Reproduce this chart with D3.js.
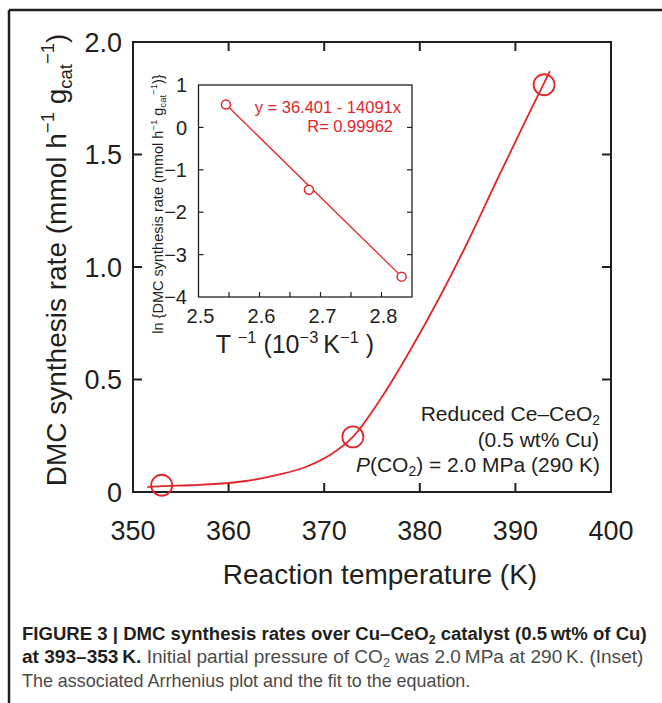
<!DOCTYPE html>
<html>
<head>
<meta charset="utf-8">
<script src="https://cdn.jsdelivr.net/npm/d3@7/dist/d3.min.js"></script>
<style>
  html, body { margin: 0; padding: 0; background: #fff; }
  svg { display: block; }
  text { font-family: "Liberation Sans", Arial, Helvetica, sans-serif; fill: #231f20; }
</style>
</head>
<body>
<svg id="fig" width="662" height="703"></svg>
<script>
// main plot: measured rates
const mainTemps = [353, 373, 393];
const mainRates = [0.03, 0.245, 1.81];
// smooth red curve
const curveT = [351.5, 353, 356, 360, 362, 365, 368, 370.6, 373, 376, 379, 382, 385, 388, 391, 393.6];
const curveR = [0.022, 0.026, 0.03, 0.04, 0.05, 0.075, 0.11, 0.164, 0.245, 0.42, 0.63, 0.86, 1.11, 1.38, 1.645, 1.87];
const xTicks = [350, 360, 370, 380, 390, 400];
const yTicks = [0, 0.5, 1.0, 1.5, 2.0];
const yTickLabels = ['0', '0.5', '1.0', '1.5', '2.0'];

// inset: Arrhenius plot
const invT = [2.545, 2.681, 2.833];
const lnRate = [0.54, -1.47, -3.52];
const fitX = [2.545, 2.833];
const fitY = [0.54, -3.52];
const insetXTicks = [2.5, 2.6, 2.7, 2.8];
const insetXMinor = [2.55, 2.6, 2.65, 2.7, 2.75, 2.8];
const insetYTicks = [1, 0, -1, -2, -3, -4];

const RED = '#e3262b';
const INK = '#231f20';
const svg = d3.select('#fig');

// helper: text with sup/sub segments
function rich(sel, segs, size) {
  let cur = 0;
  segs.forEach(s => {
    const target = s.k === 'sup' ? -0.42 * size : s.k === 'sub' ? 0.2 * size : 0;
    const t = sel.append('tspan')
      .attr('dy', target - cur)
      .attr('font-size', s.k ? size * 0.66 : size)
      .text(s.t);
    if (s.italic) t.attr('font-style', 'italic');
    if (s.bold) t.attr('font-weight', 'bold');
    if (s.fill) t.style('fill', s.fill);
    cur = target;
  });
  return sel;
}

// outer frame (left + top)
svg.append('line').attr('x1', 9).attr('y1', 10).attr('x2', 662).attr('y2', 10)
  .attr('stroke', INK).attr('stroke-width', 2.5);
svg.append('line').attr('x1', 9).attr('y1', 10).attr('x2', 9).attr('y2', 703)
  .attr('stroke', INK).attr('stroke-width', 2.5);

// ---------- main plot ----------
const x = d3.scaleLinear().domain([350, 400]).range([133, 611]);
const y = d3.scaleLinear().domain([0, 2]).range([492, 42]);
const TK = 9;

const main = svg.append('g');
main.append('rect')
  .attr('x', x(350)).attr('y', y(2))
  .attr('width', x(400) - x(350)).attr('height', y(0) - y(2))
  .attr('fill', 'none').attr('stroke', INK).attr('stroke-width', 2);

const innerX = xTicks.slice(1, -1);
const innerY = yTicks.slice(1, -1);
innerX.forEach(v => {
  main.append('line').attr('x1', x(v)).attr('x2', x(v)).attr('y1', y(0)).attr('y2', y(0) - TK)
    .attr('stroke', INK).attr('stroke-width', 2);
  main.append('line').attr('x1', x(v)).attr('x2', x(v)).attr('y1', y(2)).attr('y2', y(2) + TK)
    .attr('stroke', INK).attr('stroke-width', 2);
});
innerY.forEach(v => {
  main.append('line').attr('x1', x(350)).attr('x2', x(350) + TK).attr('y1', y(v)).attr('y2', y(v))
    .attr('stroke', INK).attr('stroke-width', 2);
  main.append('line').attr('x1', x(400)).attr('x2', x(400) - TK).attr('y1', y(v)).attr('y2', y(v))
    .attr('stroke', INK).attr('stroke-width', 2);
});

xTicks.forEach(v => {
  main.append('text').attr('x', x(v)).attr('y', 540)
    .attr('text-anchor', 'middle').attr('font-size', 27).text(v);
});
yTicks.forEach((v, i) => {
  main.append('text').attr('x', 122).attr('y', y(v)).attr('dy', '0.36em')
    .attr('text-anchor', 'end').attr('font-size', 27).text(yTickLabels[i]);
});

main.append('text').attr('x', 380).attr('y', 584)
  .attr('text-anchor', 'middle').attr('font-size', 28).text('Reaction temperature (K)');

rich(main.append('text')
  .attr('transform', 'translate(66,260) rotate(-90)')
  .attr('text-anchor', 'middle'),
  [{t: 'DMC synthesis rate (mmol h'}, {t: '\u22121', k: 'sup'}, {t: ' g'},
   {t: 'cat', k: 'sub'}, {t: '\u22121', k: 'sup'}, {t: ')'}], 28);

const line = d3.line().x(d => x(d[0])).y(d => y(d[1])).curve(d3.curveMonotoneX);
main.append('path')
  .attr('d', line(curveT.map((t, i) => [t, curveR[i]])))
  .attr('fill', 'none').attr('stroke', RED).attr('stroke-width', 1.8);
main.selectAll('circle.pt').data(mainTemps).join('circle')
  .attr('class', 'pt')
  .attr('cx', d => x(d)).attr('cy', (d, i) => y(mainRates[i])).attr('r', 10.5)
  .attr('fill', 'none').attr('stroke', RED).attr('stroke-width', 1.8);

// annotation
const ann = main.append('g').attr('text-anchor', 'end').attr('font-size', 21);
rich(ann.append('text').attr('x', 600).attr('y', 421),
  [{t: 'Reduced Ce\u2013CeO'}, {t: '2', k: 'sub'}], 21);
ann.append('text').attr('x', 599).attr('y', 447).attr('font-size', 21).text('(0.5 wt% Cu)');
rich(ann.append('text').attr('x', 600).attr('y', 472),
  [{t: 'P', italic: true}, {t: '(CO'}, {t: '2', k: 'sub'}, {t: ') = 2.0 MPa (290 K)'}], 21);

// ---------- inset ----------
const ix = d3.scaleLinear().domain([2.5, 2.85]).range([198.5, 412]);
const iy = d3.scaleLinear().domain([-4, 1]).range([297, 85]);
const ITK = 5;
const inset = svg.append('g');
inset.append('rect')
  .attr('x', ix(2.5)).attr('y', iy(1))
  .attr('width', ix(2.85) - ix(2.5)).attr('height', iy(-4) - iy(1))
  .attr('fill', 'none').attr('stroke', INK).attr('stroke-width', 1.3);

insetXMinor.forEach(v => {
  inset.append('line').attr('x1', ix(v)).attr('x2', ix(v)).attr('y1', iy(-4)).attr('y2', iy(-4) - ITK)
    .attr('stroke', INK).attr('stroke-width', 1.2);
});
insetYTicks.slice(1, -1).forEach(v => {
  inset.append('line').attr('x1', ix(2.5)).attr('x2', ix(2.5) + ITK).attr('y1', iy(v)).attr('y2', iy(v))
    .attr('stroke', INK).attr('stroke-width', 1.2);
  inset.append('line').attr('x1', ix(2.85)).attr('x2', ix(2.85) - ITK).attr('y1', iy(v)).attr('y2', iy(v))
    .attr('stroke', INK).attr('stroke-width', 1.2);
});

insetXTicks.forEach(v => {
  inset.append('text').attr('x', ix(v) + 2).attr('y', 323)
    .attr('text-anchor', 'middle').attr('font-size', 20).text(v.toFixed(1));
});
insetYTicks.forEach(v => {
  inset.append('text').attr('x', 187).attr('y', iy(v)).attr('dy', '0.36em')
    .attr('text-anchor', 'end').attr('font-size', 20).text(v < 0 ? '\u2212' + Math.abs(v) : v);
});

rich(inset.append('text').attr('x', 295).attr('y', 353).attr('text-anchor', 'middle'),
  [{t: 'T '}, {t: '\u22121', k: 'sup'}, {t: ' (10'}, {t: '\u22123', k: 'sup'}, {t: '\u2009K'},
   {t: '\u22121', k: 'sup'}, {t: ' )'}], 25);

rich(inset.append('text')
  .attr('transform', 'translate(163,204) rotate(-90)')
  .attr('text-anchor', 'middle'),
  [{t: 'ln {DMC synthesis rate (mmol h'}, {t: '\u22121', k: 'sup'}, {t: ' g'},
   {t: 'cat', k: 'sub'}, {t: '\u22121', k: 'sup'}, {t: ')}'}], 14.5);

inset.append('path')
  .attr('d', d3.line().x(d => ix(d[0])).y(d => iy(d[1]))(fitX.map((v, i) => [v, fitY[i]])))
  .attr('fill', 'none').attr('stroke', RED).attr('stroke-width', 1.3);
inset.selectAll('circle.ip').data(invT).join('circle')
  .attr('class', 'ip')
  .attr('cx', d => ix(d)).attr('cy', (d, i) => iy(lnRate[i])).attr('r', 4.5)
  .attr('fill', '#fff').attr('stroke', RED).attr('stroke-width', 1.5);

inset.append('text').attr('x', 401).attr('y', 113).attr('text-anchor', 'end')
  .attr('font-size', 16.5).style('fill', RED).text('y = 36.401 - 14091x');
inset.append('text').attr('x', 393).attr('y', 132).attr('text-anchor', 'end')
  .attr('font-size', 16.5).style('fill', RED).text('R= 0.99962');

// ---------- caption ----------
const GREY = '#4a4a4a';
const cap = svg.append('g');
const c1 = rich(cap.append('text').attr('font-weight', 'bold'),
  [{t: 'FIGURE 3 | DMC synthesis rates over Cu\u2013CeO'}, {t: '2', k: 'sub'},
   {t: ' catalyst (0.5\u2009wt% of Cu)'}], 18);
const c2 = rich(cap.append('text'),
  [{t: 'at 393\u2013353\u2009K.', bold: true}, {t: ' Initial partial pressure of CO', fill: GREY},
   {t: '2', k: 'sub', fill: GREY}, {t: ' was 2.0\u2009MPa at 290\u2009K. (Inset)', fill: GREY}], 18);
const c3 = rich(cap.append('text'),
  [{t: 'The associated Arrhenius plot and the fit to the equation.', fill: GREY}], 18);

const s1 = 625 / c1.node().getComputedTextLength();
const s2 = 622 / c2.node().getComputedTextLength();
const s3 = (s2 + 420 / c3.node().getComputedTextLength()) / 2;
c1.attr('transform', `translate(22,640) scale(${s1},1)`);
c2.attr('transform', `translate(22,663) scale(${s2},1)`);
c3.attr('transform', `translate(22,687) scale(${s3},1)`);
</script>
</body>
</html>
